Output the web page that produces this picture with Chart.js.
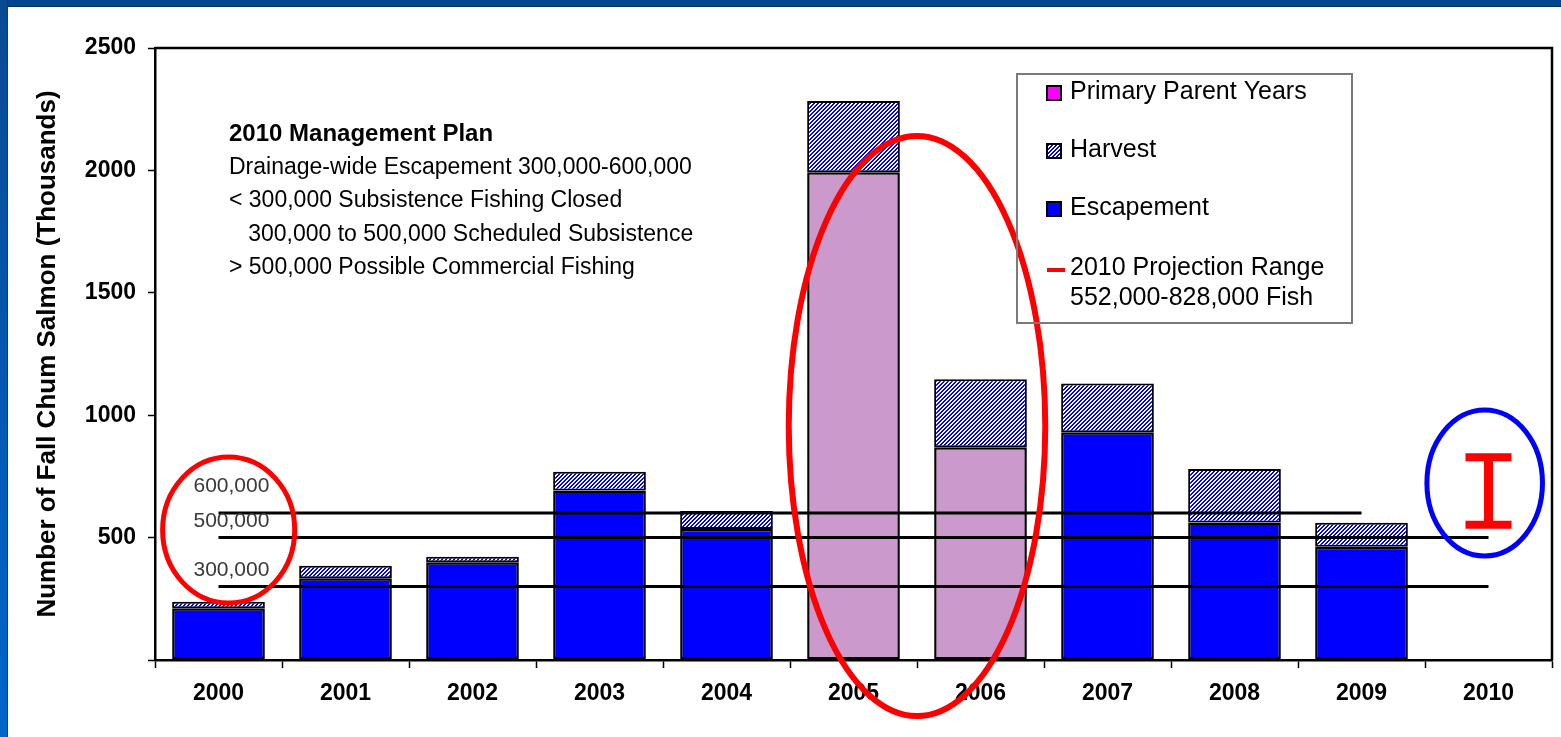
<!DOCTYPE html>
<html>
<head>
<meta charset="utf-8">
<script src="https://cdn.jsdelivr.net/npm/chart.js@4"></script>
<style>
  html, body { margin: 0; padding: 0; background: #ffffff; overflow: hidden; }
  #wrap { position: absolute; left: 0; top: 0; width: 1561px; height: 737px; }
  #topband { position: absolute; left: 0; top: 0; width: 1561px; height: 6px; background: #00478e; border-bottom: 1px solid #0b2d5a; }
  #leftband { position: absolute; left: 0; top: 0; width: 7px; height: 737px; background: linear-gradient(to bottom, #0a4a92 0%, #0658b0 50%, #0066cc 100%); border-right: 1px solid #0b3f78; }
</style>
</head>
<body>
<div id="wrap"><canvas id="c"></canvas></div>
<div id="topband"></div>
<div id="leftband"></div>
<script>
// ---- data (thousands of fish) ----
const categories = ['2000','2001','2002','2003','2004','2005','2006','2007','2008','2009','2010'];
const escapement = [211, 334, 399, 692, 535, null, null, 930, 562, 463, null];
const primaryParentYears = [null, null, null, null, null, 1992, 869, null, null, null, null];
const harvest = [27, 51, 23, 77, 74, 291, 278, 200, 218, 98, null];
const goal300 = [300, 300, 300, 300, 300, 300, 300, 300, 300, 300, 300];
const goal500 = [500, 500, 500, 500, 500, 500, 500, 500, 500, 500, 500];
const goal600 = [600, 600, 600, 600, 600, 600, 600, 600, 600, 600, null];
const projectionRange = [552, 828];
const projectionIndex = 10;
const yTicks = [0, 500, 1000, 1500, 2000, 2500];
const goalLabels = ['600,000', '500,000', '300,000'];
const goalLabelValues = [600, 500, 300];
const planLines = [
  '2010 Management Plan',
  'Drainage-wide Escapement 300,000-600,000',
  '< 300,000 Subsistence Fishing Closed',
  '   300,000 to 500,000 Scheduled Subsistence',
  '> 500,000 Possible Commercial Fishing'
];
const legendItems = ['Primary Parent Years', 'Harvest', 'Escapement', '2010 Projection Range', '552,000-828,000 Fish'];

const FONT = '"Liberation Sans", Arial, sans-serif';
Chart.defaults.font.family = FONT;
Chart.defaults.color = '#000';

function makeHatch() {
  const t = document.createElement('canvas');
  t.width = 4; t.height = 4;
  const c = t.getContext('2d');
  const img = c.createImageData(4, 4);
  for (let y = 0; y < 4; y++) for (let x = 0; x < 4; x++) {
    const i = (y * 4 + x) * 4;
    const blue = ((x + y) % 4) < 2;
    img.data[i] = blue ? 0 : 255;
    img.data[i + 1] = blue ? 0 : 255;
    img.data[i + 2] = 255;
    img.data[i + 3] = 255;
  }
  c.putImageData(img, 0, 0);
  return c.createPattern(t, 'repeat');
}
const hatch = makeHatch();

const overlayPlugin = {
  id: 'overlay',
  beforeDatasetsDraw(chart) {
    const { ctx, chartArea: a } = chart;
    ctx.save();
    ctx.strokeStyle = '#000';
    ctx.lineWidth = 2.5;
    ctx.beginPath();
    ctx.moveTo(a.left, a.top);
    ctx.lineTo(a.right, a.top);
    ctx.lineTo(a.right, a.bottom);
    ctx.stroke();
    ctx.restore();
  },
  afterDatasetsDraw(chart) {
    const { ctx, scales: { x, y } } = chart;
    ctx.save();
    // goal labels
    ctx.font = '21px ' + FONT;
    ctx.fillStyle = '#3a3a3a';
    ctx.textBaseline = 'middle';
    const offs = [-27, -16, -16];
    goalLabels.forEach((t, i) => {
      ctx.fillText(t, x.getPixelForValue(0) - 25, y.getPixelForValue(goalLabelValues[i]) + offs[i]);
    });
    // projection range I-bar
    const px = x.getPixelForValue(projectionIndex);
    const yLo = y.getPixelForValue(projectionRange[0]);
    const yHi = y.getPixelForValue(projectionRange[1]);
    ctx.strokeStyle = '#ff0000';
    ctx.lineWidth = 9;
    ctx.beginPath();
    ctx.moveTo(px, yHi); ctx.lineTo(px, yLo);
    ctx.stroke();
    ctx.lineWidth = 8;
    ctx.beginPath();
    ctx.moveTo(px - 23, yHi); ctx.lineTo(px + 23, yHi);
    ctx.moveTo(px - 23, yLo); ctx.lineTo(px + 23, yLo);
    ctx.stroke();
    // ellipses (center in category/value units, radii in category/value units)
    const ell = [
      { cx: 5.5, cy: 956, rx: 1.01, ry: 1185, color: '#ff0000', w: 6 },
      { cx: 0.08, cy: 531, rx: 0.52, ry: 298, color: '#ff0000', w: 5 },
      { cx: 9.97, cy: 723, rx: 0.455, ry: 298, color: '#0000ff', w: 5 }
    ];
    ell.forEach(e => {
      const cxp = x.getPixelForValue(e.cx);
      const rxp = x.getPixelForValue(e.cx + e.rx) - cxp;
      const cyp = y.getPixelForValue(e.cy);
      const ryp = cyp - y.getPixelForValue(e.cy + e.ry);
      ctx.strokeStyle = e.color;
      ctx.lineWidth = e.w;
      ctx.beginPath();
      ctx.ellipse(cxp, cyp, rxp, ryp, 0, 0, Math.PI * 2);
      ctx.stroke();
    });
    ctx.restore();
  },
  afterDraw(chart) {
    const { ctx } = chart;
    ctx.save();
    ctx.textBaseline = 'middle';
    ctx.fillStyle = '#000';
    // management plan text
    const ys = [134, 168, 201, 235, 268];
    planLines.forEach((t, i) => {
      ctx.font = (i === 0 ? 'bold 24px ' : '23px ') + FONT;
      ctx.fillText(t, 229, ys[i]);
    });
    // legend box
    ctx.strokeStyle = '#7a7a7a';
    ctx.lineWidth = 2;
    ctx.strokeRect(1017, 74, 335, 249);
    ctx.font = '25px ' + FONT;
    const ly = [92, 150, 208, 268, 298];
    // swatches
    const sw = [['#ff00ff'], [hatch], ['#0000ff']];
    for (let i = 0; i < 3; i++) {
      ctx.fillStyle = sw[i][0];
      ctx.fillRect(1047, ly[i] - 6, 14, 14);
      ctx.strokeStyle = '#000';
      ctx.lineWidth = 2;
      ctx.strokeRect(1047, ly[i] - 6, 14, 14);
    }
    ctx.strokeStyle = '#ff0000';
    ctx.lineWidth = 4;
    ctx.beginPath();
    ctx.moveTo(1047, ly[3] + 2); ctx.lineTo(1065, ly[3] + 2);
    ctx.stroke();
    ctx.fillStyle = '#000';
    legendItems.forEach((t, i) => ctx.fillText(t, 1070, ly[i]));
    ctx.restore();
  }
};

const lineStyle = { type: 'line', borderColor: '#000', borderWidth: 3, pointRadius: 0, fill: false, order: 0, spanGaps: false };

new Chart(document.getElementById('c'), {
  data: {
    labels: categories,
    datasets: [
      { type: 'bar', label: 'Escapement', data: escapement, backgroundColor: '#0000ff', borderColor: '#000', borderWidth: 2.5, borderSkipped: false, stack: 'fish', order: 1 },
      { type: 'bar', label: 'Primary Parent Years', data: primaryParentYears, backgroundColor: '#cc99cc', borderColor: '#000', borderWidth: 2.5, borderSkipped: false, stack: 'fish', order: 1 },
      { type: 'bar', label: 'Harvest', data: harvest, backgroundColor: hatch, borderColor: '#000', borderWidth: 2, borderSkipped: false, stack: 'fish', order: 1 },
      Object.assign({ label: '300', data: goal300, stack: 'g300' }, lineStyle),
      Object.assign({ label: '500', data: goal500, stack: 'g500' }, lineStyle),
      Object.assign({ label: '600', data: goal600, stack: 'g600' }, lineStyle)
    ]
  },
  options: {
    responsive: true,
    maintainAspectRatio: false,
    animation: false,
    events: [],
    layout: { padding: { left: 0, top: 48, right: 9, bottom: 0 } },
    datasets: { bar: { barPercentage: 0.73, categoryPercentage: 1.0 } },
    plugins: { legend: { display: false }, tooltip: { enabled: false } },
    scales: {
      x: {
        stacked: true,
        grid: { display: true, drawOnChartArea: false, drawTicks: true, tickLength: 8, tickColor: '#000', tickWidth: 1.5, offset: true },
        border: { display: true, color: '#000', width: 2.5 },
        ticks: { font: { size: 23, weight: 'bold' }, color: '#000', padding: 12, maxRotation: 0 },
        afterFit(s) { s.height = 77; }
      },
      y: {
        stacked: true,
        min: 0, max: 2500,
        afterBuildTicks(s) { s.ticks = yTicks.map(v => ({ value: v })); },
        grid: { display: true, drawOnChartArea: false, drawTicks: true, tickLength: 7, tickColor: '#000', tickWidth: 1.5 },
        border: { display: true, color: '#000', width: 2.5 },
        ticks: { font: { size: 23, weight: 'bold' }, color: '#000', padding: 12, callback: v => (v === 0 ? '' : String(v)) },
        title: { display: true, text: 'Number of Fall Chum Salmon (Thousands)', font: { size: 26, weight: 'bold' }, color: '#000', padding: { top: 32, bottom: 0 } },
        afterFit(s) { s.width = 155; }
      }
    }
  },
  plugins: [overlayPlugin]
});
</script>
</body>
</html>
